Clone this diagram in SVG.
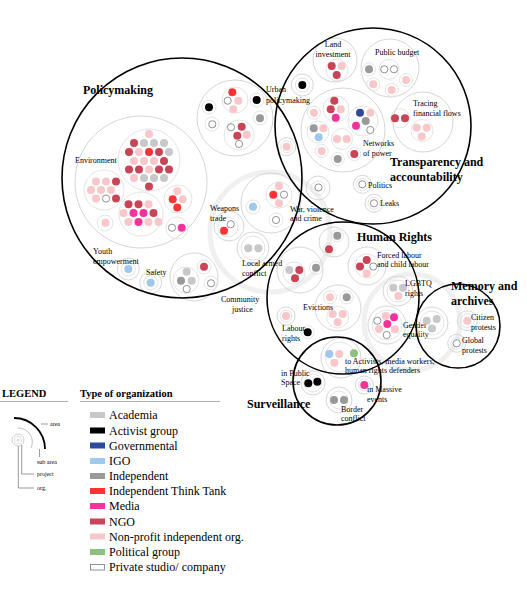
<svg xmlns="http://www.w3.org/2000/svg" width="527" height="614" viewBox="0 0 527 614">
<style>
.ac{fill:#c8c8c8}.act{fill:#000}.gov{fill:#2b4a99}.igo{fill:#9fc8ef}.ind{fill:#999}.itt{fill:#f33}.med{fill:#f5319a}.ngo{fill:#c94457}.np{fill:#f8c7ca}.pol{fill:#8cc07c}.pri{fill:#fff;stroke:#777;stroke-width:0.8}
.area{fill:none;stroke:#000;stroke-width:1.6}
.sub{fill:none;stroke:#d6d6d6;stroke-width:1}
.prj{fill:none;stroke:#e0e0e0;stroke-width:0.9}
.halo{fill:none;stroke:#f0f0f0;stroke-width:5}
text{font-family:"Liberation Serif","Times New Roman",serif;fill:#000}
.l{font-size:8px}
.b{font-size:12px;font-weight:bold}
.lg{font-size:12px}
.lh{font-size:10.5px;font-weight:bold}
.ls{font-size:6px}
.ln{fill:none;stroke:#555;stroke-width:0.6}
</style>

<g id="halos">
<circle class="halo" cx="270" cy="232" r="60"/>
<circle class="halo" cx="412" cy="322" r="48"/>
</g>

<g id="policymaking">
<g id="environment">
<circle class="sub" cx="141" cy="182" r="66"/>
<circle class="prj" cx="149" cy="160" r="31"/>
<circle class="prj" cx="104" cy="190" r="20"/>
<circle class="prj" cx="141" cy="214" r="22"/>
<circle class="prj" cx="178" cy="199" r="14"/>
<circle class="prj" cx="105" cy="223" r="8"/>
<circle class="prj" cx="177" cy="228" r="11"/>
<circle class="np" cx="149" cy="134" r="4"/>
<circle class="ngo" cx="134" cy="143" r="4"/><circle class="ac" cx="144" cy="143" r="4"/><circle class="ac" cx="154" cy="143" r="4"/><circle class="ac" cx="164" cy="143" r="4"/>
<circle class="ngo" cx="129" cy="152" r="4"/><circle class="np" cx="139" cy="152" r="4"/><circle class="itt" cx="149" cy="152" r="4"/><circle class="ngo" cx="159" cy="152" r="4"/><circle class="ac" cx="169" cy="152" r="4"/>
<circle class="np" cx="134" cy="161" r="4"/><circle class="np" cx="144" cy="161" r="4"/><circle class="np" cx="154" cy="161" r="4"/><circle class="ngo" cx="164" cy="161" r="4"/>
<circle class="ngo" cx="129" cy="169.5" r="4"/><circle class="ngo" cx="139" cy="169.5" r="4"/><circle class="np" cx="149" cy="169.5" r="4"/><circle class="ngo" cx="159" cy="169.5" r="4"/><circle class="ngo" cx="169" cy="169.5" r="4"/>
<circle class="np" cx="134" cy="178" r="4"/><circle class="ac" cx="144" cy="178" r="4"/><circle class="ac" cx="154" cy="178" r="4"/><circle class="ac" cx="164" cy="178" r="4"/>
<circle class="ngo" cx="149" cy="186.5" r="4"/>
<circle class="np" cx="96" cy="181.5" r="4"/><circle class="np" cx="106" cy="181.5" r="4"/><circle class="ngo" cx="116" cy="181.5" r="4"/>
<circle class="np" cx="91" cy="190" r="4"/><circle class="np" cx="101" cy="190" r="4"/><circle class="np" cx="111" cy="190" r="4"/>
<circle class="np" cx="96" cy="198.5" r="4"/><circle class="pri" cx="106" cy="198.5" r="3.6"/><circle class="ngo" cx="116" cy="198.5" r="4"/>
<circle class="ngo" cx="128.5" cy="204.3" r="4"/><circle class="ngo" cx="138.5" cy="204.3" r="4"/><circle class="np" cx="148.5" cy="204.3" r="4"/>
<circle class="np" cx="123.5" cy="213" r="4"/><circle class="med" cx="133.5" cy="213" r="4"/><circle class="med" cx="143.5" cy="213" r="4"/><circle class="ngo" cx="153.5" cy="213" r="4"/>
<circle class="np" cx="128.5" cy="222" r="4"/><circle class="med" cx="138.5" cy="222" r="4"/><circle class="np" cx="148.5" cy="222" r="4"/><circle class="np" cx="158.5" cy="222" r="4"/>
<circle class="np" cx="177.3" cy="191" r="4"/><circle class="itt" cx="172.7" cy="199.3" r="4"/><circle class="np" cx="182.7" cy="199.3" r="4"/><circle class="itt" cx="177.3" cy="207.5" r="4"/>
<circle class="np" cx="105.5" cy="222.7" r="4"/>
<circle class="pri" cx="172" cy="227.7" r="3.6"/><circle class="med" cx="181.7" cy="227.7" r="4"/>
<text class="l" x="75" y="163">Environment</text>
</g>
<g id="urban">
<circle class="sub" cx="235" cy="118" r="38"/>
<circle class="prj" cx="235" cy="100" r="13"/>
<circle class="prj" cx="209" cy="107" r="7"/>
<circle class="prj" cx="257" cy="100" r="7"/>
<circle class="prj" cx="212" cy="124" r="7"/>
<circle class="prj" cx="260" cy="118" r="7"/>
<circle class="prj" cx="239" cy="135" r="15"/>
<circle class="itt" cx="232.3" cy="92.3" r="4"/><circle class="pri" cx="227.7" cy="100.7" r="3.6"/><circle class="np" cx="238.3" cy="100.7" r="4"/><circle class="np" cx="233.3" cy="109.3" r="4"/>
<circle class="act" cx="209" cy="107.3" r="4"/><circle class="act" cx="256.7" cy="100" r="4"/>
<circle class="pri" cx="212.3" cy="124.3" r="3.6"/><circle class="ind" cx="260" cy="118.3" r="4"/>
<circle class="pri" cx="231" cy="127.3" r="3.6"/><circle class="ngo" cx="241.7" cy="126.7" r="4"/><circle class="ngo" cx="237.3" cy="135.7" r="4"/><circle class="np" cx="246.7" cy="134.7" r="4"/><circle class="pri" cx="239" cy="144" r="3.6"/>
<text class="l" x="266" y="92">Urban</text><text class="l" x="266" y="103">policymaking</text>
</g>
<g id="weapons">
<circle class="sub" cx="229" cy="226" r="15"/>
<circle class="prj" cx="228" cy="227" r="10"/>
<circle class="pri" cx="230.7" cy="224.3" r="3.6"/><circle class="itt" cx="224" cy="230.7" r="4"/>
<text class="l" x="210" y="211">Weapons</text><text class="l" x="210" y="221">trade</text>
</g>
<g id="war">
<circle class="sub" cx="271" cy="203" r="30"/>
<circle class="prj" cx="253" cy="207" r="7"/>
<circle class="prj" cx="279" cy="195" r="13"/>
<circle class="prj" cx="276" cy="220" r="7"/>
<circle class="sub" cx="318" cy="188" r="12"/><circle class="prj" cx="318" cy="188" r="7"/>
<circle class="igo" cx="253" cy="206.7" r="4"/>
<circle class="np" cx="279" cy="186" r="4"/><circle class="itt" cx="273.3" cy="194.7" r="4"/><circle class="pri" cx="284" cy="194.7" r="3.6"/><circle class="np" cx="279" cy="203.3" r="4"/>
<circle class="pri" cx="276" cy="220" r="3.6"/><circle class="pri" cx="318.5" cy="187.5" r="3.6"/>
<text class="l" x="290" y="212">War, violence</text><text class="l" x="290" y="221">and crime</text>
</g>
<g id="local">
<circle class="sub" cx="253" cy="248" r="16"/>
<circle class="prj" cx="253" cy="248" r="12"/>
<circle class="ac" cx="248.3" cy="248.3" r="4"/><circle class="ac" cx="258.3" cy="248.3" r="4"/>
<text class="l" x="242" y="266">Local armed</text><text class="l" x="242" y="276">conflict</text>
</g>
<g id="community">
<circle class="sub" cx="194" cy="277" r="24"/>
<circle class="prj" cx="186" cy="280" r="13"/>
<circle class="prj" cx="204" cy="267" r="7"/>
<circle class="prj" cx="211" cy="283" r="7"/>
<circle class="ac" cx="186.7" cy="271.7" r="4"/><circle class="ind" cx="181" cy="280.7" r="4"/><circle class="ac" cx="191.7" cy="280.7" r="4"/><circle class="pri" cx="186.7" cy="289" r="3.6"/>
<circle class="ngo" cx="204" cy="266.7" r="4"/><circle class="pri" cx="211" cy="283.3" r="3.6"/>
<text class="l" x="221" y="302">Community</text><text class="l" x="232" y="312">justice</text>
</g>
<g id="youth">
<circle class="sub" cx="128.3" cy="269" r="11"/><circle class="prj" cx="128.3" cy="269" r="7"/>
<circle class="igo" cx="128.3" cy="269" r="4"/>
<text class="l" x="93" y="254">Youth</text><text class="l" x="93" y="264">empowerment</text>
</g>
<g id="safety">
<circle class="sub" cx="150.7" cy="282.7" r="11"/><circle class="prj" cx="150.7" cy="282.7" r="7"/>
<circle class="igo" cx="150.7" cy="282.7" r="4"/>
<text class="l" x="146" y="275">Safety</text>
</g>
<circle class="area" cx="182" cy="178" r="120"/>
<text class="b" x="83" y="94">Policymaking</text>
</g>

<g id="transparency">
<g id="land">
<circle class="sub" cx="335" cy="60" r="22"/>
<circle class="prj" cx="337" cy="70" r="11"/>
<circle class="ngo" cx="331.7" cy="66" r="4"/><circle class="np" cx="341.7" cy="66" r="4"/><circle class="ngo" cx="336.7" cy="75" r="4"/>
<text class="l" x="333" y="47" text-anchor="middle">Land</text><text class="l" x="333" y="57" text-anchor="middle">investment</text>
</g>
<g id="budget">
<circle class="sub" cx="390" cy="68" r="29"/>
<circle class="prj" cx="369" cy="69.3" r="6.5"/>
<circle class="prj" cx="389" cy="69.3" r="10"/>
<circle class="prj" cx="373.3" cy="84.3" r="6.5"/>
<circle class="prj" cx="391.7" cy="90" r="6.5"/>
<circle class="prj" cx="406" cy="80" r="6.5"/>
<circle class="ind" cx="369" cy="69.3" r="4"/><circle class="pri" cx="384.3" cy="69.3" r="3.6"/><circle class="pri" cx="394" cy="69.3" r="3.6"/>
<circle class="np" cx="373.3" cy="84.3" r="4"/><circle class="np" cx="391.7" cy="90" r="4"/><circle class="np" cx="406" cy="80" r="4"/>
<text class="l" x="375" y="55">Public budget</text>
</g>
<g id="tracing">
<circle class="sub" cx="423" cy="122" r="30"/>
<circle class="prj" cx="400" cy="118.3" r="9.5"/>
<circle class="prj" cx="422" cy="130.5" r="11"/>
<circle class="ngo" cx="395" cy="118.3" r="4"/><circle class="ngo" cx="405" cy="118.3" r="4"/>
<circle class="np" cx="416.7" cy="127.7" r="4"/><circle class="np" cx="426.7" cy="127.7" r="4"/><circle class="np" cx="421.7" cy="136.5" r="4"/>
<text class="l" x="413" y="106">Tracing</text><text class="l" x="413" y="116">financial flows</text>
</g>
<g id="networks">
<circle class="sub" cx="343" cy="130" r="42"/>
<circle class="prj" cx="336" cy="109" r="13"/>
<circle class="prj" cx="314" cy="112.7" r="6.5"/>
<circle class="prj" cx="363" cy="121" r="15"/>
<circle class="prj" cx="318" cy="132" r="11"/>
<circle class="prj" cx="342" cy="139" r="10.5"/>
<circle class="prj" cx="321.7" cy="151" r="6.5"/>
<circle class="prj" cx="337.7" cy="159" r="6.5"/>
<circle class="prj" cx="354.3" cy="154" r="6.5"/>
<circle class="ngo" cx="334.3" cy="100.7" r="4"/><circle class="ngo" cx="330.7" cy="109.3" r="4"/><circle class="np" cx="340.7" cy="109.3" r="4"/><circle class="med" cx="335.7" cy="117.7" r="4"/>
<circle class="np" cx="314" cy="112.7" r="4"/>
<circle class="gov" cx="360" cy="112.7" r="4"/><circle class="np" cx="370.3" cy="112.7" r="4"/><circle class="ind" cx="365.7" cy="121" r="4"/><circle class="med" cx="356" cy="125.7" r="4"/><circle class="pri" cx="370.3" cy="130" r="3.6"/>
<circle class="ind" cx="313.7" cy="128.3" r="4"/><circle class="np" cx="323.3" cy="128.3" r="4"/><circle class="igo" cx="318.7" cy="137.3" r="4"/>
<circle class="np" cx="337" cy="139" r="4"/><circle class="np" cx="346.7" cy="139" r="4"/>
<circle class="np" cx="321.7" cy="151" r="4"/><circle class="ind" cx="337.7" cy="159" r="4"/><circle class="ngo" cx="354.3" cy="154" r="4"/>
<text class="l" x="363" y="146">Networks</text><text class="l" x="363" y="156">of power</text>
</g>
<g id="t-singles">
<circle class="sub" cx="302.3" cy="85" r="11"/><circle class="prj" cx="302.3" cy="85" r="7"/><circle class="act" cx="302.3" cy="85" r="4"/>
<circle class="sub" cx="286.7" cy="146.7" r="9"/><circle class="prj" cx="286.7" cy="146.7" r="6"/><circle class="np" cx="286.7" cy="146.7" r="4"/>
</g>
<g id="politics">
<circle class="sub" cx="362.3" cy="184.3" r="9"/><circle class="prj" cx="362.3" cy="184.3" r="6"/><circle class="pri" cx="362.3" cy="184.3" r="3.6"/>
<text class="l" x="368" y="188">Politics</text>
</g>
<g id="leaks">
<circle class="sub" cx="374" cy="203.3" r="9"/><circle class="prj" cx="374" cy="203.3" r="6"/><circle class="pri" cx="374" cy="203.3" r="3.6"/>
<text class="l" x="380" y="206">Leaks</text>
</g>
<circle class="area" cx="373" cy="126" r="98"/>
<text class="b" x="390" y="166">Transparency and</text><text class="b" x="390" y="181">accountability</text>
</g>

<g id="human-rights">
<g id="hr-top">
<circle class="sub" cx="334" cy="242" r="15"/>
<circle class="prj" cx="337.3" cy="235.7" r="6"/><circle class="prj" cx="329" cy="249.3" r="6"/>
<circle class="ind" cx="337.3" cy="235.7" r="4"/><circle class="ngo" cx="329" cy="249.3" r="4"/>
</g>
<g id="local2">
<circle class="sub" cx="300" cy="270" r="23"/>
<circle class="prj" cx="294" cy="273" r="11"/><circle class="prj" cx="316" cy="268" r="6.5"/>
<circle class="ac" cx="289.3" cy="270" r="4"/><circle class="ngo" cx="299.3" cy="270" r="4"/><circle class="ngo" cx="295" cy="278.3" r="4"/><circle class="ind" cx="316" cy="267.7" r="4"/>
</g>
<g id="forced">
<circle class="sub" cx="367" cy="266" r="19"/><circle class="prj" cx="367" cy="266" r="12"/>
<circle class="ngo" cx="366.7" cy="260" r="4"/><circle class="ngo" cx="360" cy="266.5" r="4"/><circle class="pri" cx="373.3" cy="266.5" r="3.6"/><circle class="np" cx="366.7" cy="273.5" r="4"/>
<text class="l" x="377" y="258">Forced labour</text><text class="l" x="377" y="267">and child labour</text>
</g>
<g id="lgbtq">
<circle class="sub" cx="398" cy="291" r="15"/><circle class="prj" cx="398" cy="291" r="11"/>
<circle class="ac" cx="393.3" cy="287.7" r="4"/><circle class="ac" cx="403" cy="287.7" r="4"/><circle class="np" cx="398.3" cy="296" r="4"/>
<text class="l" x="405" y="286">LGBTQ</text><text class="l" x="405" y="296">rights</text>
</g>
<g id="evictions">
<circle class="sub" cx="338" cy="308" r="23"/>
<circle class="prj" cx="330" cy="297.3" r="6.5"/><circle class="prj" cx="346.7" cy="297.3" r="6.5"/><circle class="prj" cx="337.7" cy="317" r="11"/>
<circle class="np" cx="330" cy="297.3" r="4"/><circle class="ind" cx="346.7" cy="297.3" r="4"/>
<circle class="np" cx="332.7" cy="314" r="4"/><circle class="np" cx="342.7" cy="314" r="4"/><circle class="np" cx="337.7" cy="322.3" r="4"/>
<text class="l" x="303" y="310">Evictions</text>
</g>
<g id="labour">
<circle class="sub" cx="286" cy="316" r="9"/><circle class="prj" cx="286" cy="316" r="6"/><circle class="np" cx="286" cy="316" r="4"/>
<circle class="prj" cx="307.7" cy="332.3" r="6.5"/><circle class="act" cx="307.7" cy="332.3" r="4"/>
<text class="l" x="282" y="331">Labour</text><text class="l" x="282" y="341">rights</text>
</g>
<g id="gender">
<circle class="sub" cx="387" cy="325" r="19"/><circle class="prj" cx="387" cy="325" r="15"/>
<circle class="pri" cx="377.3" cy="320.7" r="3.6"/><circle class="np" cx="385.7" cy="316" r="4"/><circle class="med" cx="394" cy="317.3" r="4"/><circle class="med" cx="387.3" cy="324" r="4"/>
<circle class="np" cx="379" cy="329" r="4"/><circle class="np" cx="395" cy="329.3" r="4"/><circle class="pri" cx="386.7" cy="335" r="3.6"/>
<text class="l" x="403" y="328">Gender</text><text class="l" x="403" y="337">equality</text>
</g>
<g id="activists">
<circle class="sub" cx="341" cy="358" r="20"/><circle class="prj" cx="340" cy="357" r="15"/>
<circle class="igo" cx="329.3" cy="354" r="4"/><circle class="np" cx="339.3" cy="354" r="4"/><circle class="pol" cx="354" cy="353.3" r="4"/><circle class="np" cx="334.3" cy="362.7" r="4"/>
<text class="l" x="345" y="364">to Activists, media workers,</text><text class="l" x="345" y="373">human rights defenders</text>
</g>
<circle class="area" cx="343" cy="298" r="76"/>
<text class="b" x="357" y="241">Human Rights</text>
</g>

<g id="memory">
<g id="mem-academia">
<circle class="sub" cx="432" cy="323" r="16"/><circle class="prj" cx="432" cy="323" r="12"/>
<circle class="ac" cx="426.7" cy="320.7" r="4"/><circle class="ac" cx="436.7" cy="319" r="4"/><circle class="ac" cx="432" cy="328.5" r="4"/>
</g>
<g id="citizen">
<circle class="sub" cx="467.3" cy="320.7" r="10"/><circle class="prj" cx="467.3" cy="320.7" r="7"/><circle class="np" cx="467.3" cy="320.7" r="4"/>
<text class="l" x="471" y="320">Citizen</text><text class="l" x="471" y="330">protests</text>
</g>
<g id="global">
<circle class="sub" cx="456.7" cy="343.3" r="9"/><circle class="prj" cx="456.7" cy="343.3" r="6"/><circle class="pri" cx="456.7" cy="343.3" r="3.6"/>
<text class="l" x="462" y="343">Global</text><text class="l" x="462" y="353">protests</text>
</g>
<circle class="area" cx="458" cy="326" r="42"/>
<text class="b" x="451" y="290">Memory and</text><text class="b" x="451" y="305">archives</text>
</g>

<g id="surveillance">
<g id="public-space">
<circle class="sub" cx="313" cy="383" r="12"/><circle class="prj" cx="313" cy="383" r="9"/>
<circle class="act" cx="308.3" cy="383.3" r="4"/><circle class="act" cx="317.3" cy="381.7" r="4"/>
<text class="l" x="281" y="376">in Public</text><text class="l" x="281" y="385">Space</text>
</g>
<g id="massive">
<circle class="sub" cx="364.3" cy="385" r="9"/><circle class="prj" cx="364.3" cy="385" r="6"/><circle class="med" cx="364.3" cy="385" r="4"/>
<text class="l" x="367" y="392">in Massive</text><text class="l" x="367" y="402">events</text>
</g>
<g id="border">
<circle class="sub" cx="339" cy="400" r="13"/><circle class="prj" cx="339" cy="400" r="9"/>
<circle class="ind" cx="334" cy="400" r="4"/><circle class="ind" cx="344" cy="400" r="4"/>
<text class="l" x="341" y="412">Border</text><text class="l" x="341" y="421">conflict</text>
</g>
<circle class="area" cx="337" cy="381" r="44"/>
<text class="b" x="247" y="408">Surveillance</text>
</g>

<g id="legend">
<text class="lh" x="2" y="397">LEGEND</text>
<line x1="0" y1="401.5" x2="68" y2="401.5" stroke="#999" stroke-width="0.8"/>
<path d="M14,418 A31,31 0 0 1 45,449" fill="none" stroke="#000" stroke-width="1.8"/>
<path d="M18,428 A14,14 0 0 1 31,448" fill="none" stroke="#bbb" stroke-width="0.9"/>
<circle cx="18" cy="440" r="6" fill="#fff" stroke="#bbb" stroke-width="0.7"/>
<circle cx="18" cy="440" r="3.8" fill="#fff" stroke="#ccc" stroke-width="0.6"/>
<circle cx="18" cy="440" r="1.6" fill="#ddd"/>
<g id="connectors">
<path class="ln" d="M41,424 H48"/>
<path class="ln" d="M39.5,449 V457"/>
<path class="ln" d="M21.7,445 V474 H34"/>
<path class="ln" d="M18.3,446 V488 H34"/>
</g>
<text class="ls" x="50" y="426">area</text>
<text class="ls" x="37" y="464">sub area</text>
<text class="ls" x="37" y="476">project</text>
<text class="ls" x="37" y="490">org.</text>

<text class="lh" x="80" y="397">Type of organization</text>
<line x1="80" y1="401.5" x2="220" y2="401.5" stroke="#999" stroke-width="0.8"/>
<rect class="ac" x="90" y="412" width="15" height="6"/><text class="lg" x="109" y="419">Academia</text>
<rect class="act" x="90" y="427.5" width="15" height="6"/><text class="lg" x="109" y="434.5">Activist group</text>
<rect class="gov" x="90" y="442.5" width="15" height="6"/><text class="lg" x="109" y="449.5">Governmental</text>
<rect class="igo" x="90" y="458" width="15" height="6"/><text class="lg" x="109" y="465">IGO</text>
<rect class="ind" x="90" y="473" width="15" height="6"/><text class="lg" x="109" y="480">Independent</text>
<rect class="itt" x="90" y="488" width="15" height="6"/><text class="lg" x="109" y="495">Independent Think Tank</text>
<rect class="med" x="90" y="503" width="15" height="6"/><text class="lg" x="109" y="510">Media</text>
<rect class="ngo" x="90" y="518.5" width="15" height="6"/><text class="lg" x="109" y="525.5">NGO</text>
<rect class="np" x="90" y="533.5" width="15" height="6"/><text class="lg" x="109" y="540.5">Non-profit independent org.</text>
<rect class="pol" x="90" y="549" width="15" height="6"/><text class="lg" x="109" y="556">Political group</text>
<rect class="pri" x="90.5" y="564.5" width="14" height="5.5"/><text class="lg" x="109" y="571">Private studio/ company</text>
</g>
</svg>
